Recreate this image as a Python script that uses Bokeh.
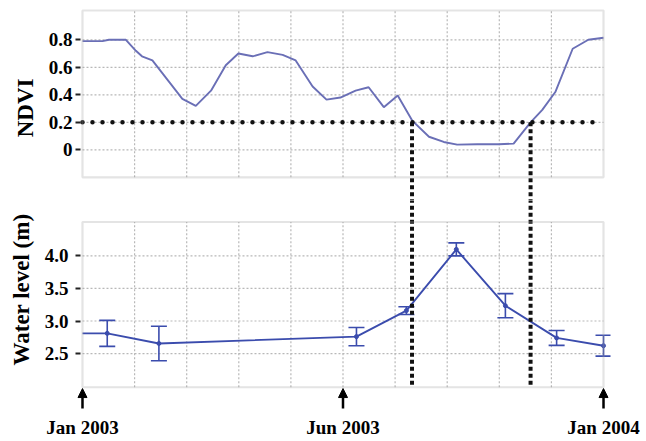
import math
from bokeh.plotting import figure
from bokeh.layouts import column
from bokeh.models import (Range1d, FixedTicker, BoxAnnotation, Arrow, NormalHead,
                          PrintfTickFormatter)
from bokeh.embed import file_html
from bokeh.resources import INLINE

# ---------------- data (months since Jan 2003) ----------------
ndvi_month = [0.00, 0.46, 0.61, 1.00, 1.23, 1.37, 1.61, 2.30, 2.61, 2.96, 3.30, 3.59,
              3.92, 4.26, 4.61, 4.91, 5.30, 5.62, 5.94, 6.29, 6.59, 6.94, 7.26, 7.60,
              7.98, 8.32, 8.63, 9.09, 9.59, 9.93, 10.32, 10.59, 10.89, 11.29, 11.65, 12.00]
ndvi_value = [0.79, 0.79, 0.80, 0.80, 0.72, 0.68, 0.65, 0.37, 0.32, 0.43, 0.615, 0.70,
              0.68, 0.71, 0.69, 0.65, 0.46, 0.365, 0.38, 0.43, 0.455, 0.31, 0.395, 0.21,
              0.095, 0.057, 0.038, 0.04, 0.04, 0.045, 0.20, 0.29, 0.42, 0.735, 0.80, 0.815]

wl_month = [0.00, 0.57, 1.76, 6.31, 7.46, 8.61, 9.74, 10.92, 12.00]
wl_level = [2.81, 2.81, 2.655, 2.76, 3.16, 4.10, 3.235, 2.74, 2.62]
wl_err = [float("nan"), 0.20, 0.265, 0.14, 0.06, 0.10, 0.185, 0.115, 0.16]

ndvi_threshold = 0.2
threshold_span = [0.0, 11.78]
crossing_month = [7.59, 10.32]

ndvi_ticks = [0, 0.2, 0.4, 0.6, 0.8]
wl_ticks = [2.5, 3.0, 3.5, 4.0]
x_grid = [1.2, 2.4, 3.6, 4.8, 6.0, 7.2, 8.4, 9.6, 10.8]
date_ticks = [0, 6, 12]
date_labels = ["Jan 2003", "Jun 2003", "Jan 2004"]
ndvi_title = "NDVI"
wl_title = "Water level (m)"
x_panel = (0, 12)
ndvi_panel = (-0.2, 1.013)
wl_panel = (1.982, 4.521)

# ---------------- styles ----------------
W = 640
FONT = "Liberation Serif"
NDVI_C = "#6a6fb6"
WL_C = "#3b4cad"
GRID_C = "#b8b8b8"
BORDER_C = "#a6a6a6"
DOT_C = "#111111"


def base_fig(height, y_range, title, title_offset, **kw):
    p = figure(width=W, height=height, x_range=Range1d(-0.161, 12.161), y_range=y_range,
               output_backend="svg", toolbar_location=None, title=title,
               title_location="left",
               min_border_left=75, min_border_right=30, min_border_top=0, **kw)
    p.title.align = "right"
    p.title.offset = title_offset
    p.title.vertical_align = "middle"
    p.title.standoff = 14
    p.title.text_font = FONT
    p.title.text_font_style = "bold"
    p.title.text_font_size = "23px"
    p.title.text_color = "black"
    p.xgrid.visible = False
    p.ygrid.visible = False
    p.outline_line_color = None
    p.background_fill_color = "white"
    p.border_fill_color = "white"
    return p


def style_yaxis(p, ticks, standoff):
    ax = p.yaxis[0]
    ax.ticker = FixedTicker(ticks=ticks)
    ax.formatter = PrintfTickFormatter(format="%.1f")
    ax.axis_line_color = None
    ax.major_tick_out = 0
    ax.major_tick_in = 5
    ax.major_tick_line_color = "#222222"
    ax.major_tick_line_width = 2
    ax.minor_tick_line_color = None
    ax.major_label_standoff = standoff
    ax.major_label_text_font = FONT
    ax.major_label_text_font_style = "bold"
    ax.major_label_text_font_size = "19px"
    ax.major_label_text_color = "black"


def panel_grid(p, yticks, ylim):
    p.segment(x0=x_grid, y0=[ylim[0]] * len(x_grid), x1=x_grid, y1=[ylim[1]] * len(x_grid),
              line_color=GRID_C, line_width=1.2, line_dash="2 2")
    p.segment(x0=[x_panel[0]] * len(yticks), y0=yticks, x1=[x_panel[1]] * len(yticks), y1=yticks,
              line_color=GRID_C, line_width=1.2, line_dash="2 2")


def panel_border(p, ylim):
    p.add_layout(BoxAnnotation(left=x_panel[0], right=x_panel[1], bottom=ylim[0], top=ylim[1],
                               fill_alpha=0, line_color=BORDER_C, line_width=2.2))


# ---------------- top: NDVI ----------------
top = base_fig(200, Range1d(-0.3687, 1.0858), ndvi_title, 78,
               x_axis_location=None, min_border_bottom=0)
style_yaxis(top, ndvi_ticks, 3)
top.yaxis[0].major_label_overrides = {0: "0"}
panel_grid(top, ndvi_ticks, ndvi_panel)
top.line(ndvi_month, ndvi_value, line_color=NDVI_C, line_width=1.9)
top.line(threshold_span, [ndvi_threshold] * 2, line_color=DOT_C, line_width=4.5,
         line_dash="0 10", line_cap="round")
top.segment(x0=crossing_month, y0=[ndvi_threshold] * 2, x1=crossing_month, y1=[-0.6] * 2,
            line_color=DOT_C, line_width=4, line_dash="4 3")
panel_border(top, ndvi_panel)

# ---------------- bottom: water level ----------------
bot = base_fig(240, Range1d(1.6248, 4.8516), wl_title, 13, min_border_bottom=28)
style_yaxis(bot, wl_ticks, 7)
panel_grid(bot, wl_ticks, wl_panel)
bot.line(wl_month, wl_level, line_color=WL_C, line_width=1.9)
ex = [m for m, e in zip(wl_month, wl_err) if not math.isnan(e)]
ey = [v for v, e in zip(wl_level, wl_err) if not math.isnan(e)]
ee = [e for e in wl_err if not math.isnan(e)]
lo = [v - e for v, e in zip(ey, ee)]
hi = [v + e for v, e in zip(ey, ee)]
bot.segment(x0=ex, y0=lo, x1=ex, y1=hi, line_color=WL_C, line_width=1.6)
bot.scatter(ex, lo, marker="dash", size=16, line_color=WL_C, line_width=1.6)
bot.scatter(ex, hi, marker="dash", size=16, line_color=WL_C, line_width=1.6)
bot.scatter(ex, ey, marker="circle", size=4, color=WL_C)
bot.segment(x0=crossing_month, y0=[5.2] * 2, x1=crossing_month, y1=[wl_panel[0]] * 2,
            line_color=DOT_C, line_width=4, line_dash="4 3")
panel_border(bot, wl_panel)

xa = bot.xaxis[0]
xa.ticker = FixedTicker(ticks=date_ticks)
xa.major_label_overrides = dict(zip(date_ticks, date_labels))
xa.axis_line_color = None
xa.major_tick_line_color = None
xa.minor_tick_line_color = None
xa.major_tick_out = 0
xa.major_tick_in = 0
xa.major_label_standoff = 6
xa.major_label_text_font = FONT
xa.major_label_text_font_style = "bold"
xa.major_label_text_font_size = "19px"
xa.major_label_text_color = "black"

for t in date_ticks:
    bot.add_layout(Arrow(x_start=t, y_start=1.655, x_end=t, y_end=1.962,
                         line_color="black", line_width=2.5,
                         end=NormalHead(size=9, fill_color="black", line_color="black",
                                        line_width=1)))

layout = column(top, bot)
open("out.html", "w").write(file_html(layout, INLINE))
